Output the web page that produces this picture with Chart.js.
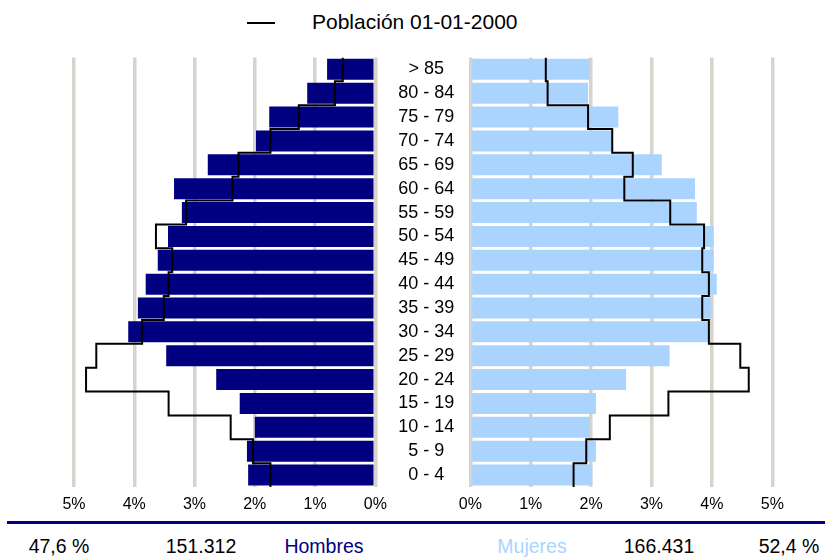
<!DOCTYPE html>
<html>
<head>
<meta charset="utf-8">
<script src="https://cdn.jsdelivr.net/npm/chart.js@4/dist/chart.umd.min.js"></script>
<style>
  body { margin: 0; width: 825px; height: 558px; overflow: hidden; background: #fff;
         font-family: "Liberation Sans", Arial, sans-serif; }
  canvas { position: absolute; top: 0; }
  #left { left: 0; }
  #right { left: 375px; }
  .txt { position: absolute; white-space: nowrap; line-height: 19px; font-size: 19.5px; color: #000;
         transform: translateX(-50%); }
  #legend-line { position: absolute; left: 247px; top: 22px; width: 28px; height: 2px; background: #000; }
  #legend-text { position: absolute; left: 312px; top: 12px; font-size: 21px; line-height: 20px; }
  #rule { position: absolute; left: 7px; top: 521px; width: 818px; height: 3px; background: #000080; }
</style>
</head>
<body>
<div id="legend-line"></div>
<div id="legend-text">Población 01-01-2000</div>
<canvas id="left" width="400" height="520"></canvas>
<canvas id="right" width="450" height="520"></canvas>
<div id="rule"></div>
<div class="txt" style="left:59px;top:537px">47,6 %</div>
<div class="txt" style="left:201px;top:537px">151.312</div>
<div class="txt" style="left:324px;top:537px;color:#000080">Hombres</div>
<div class="txt" style="left:532px;top:537px;color:#aad4fe">Mujeres</div>
<div class="txt" style="left:659px;top:537px">166.431</div>
<div class="txt" style="left:789px;top:537px">52,4 %</div>
<script>
// grupos de edad, de arriba abajo
const edades = ["> 85", "80 - 84", "75 - 79", "70 - 74", "65 - 69", "60 - 64", "55 - 59",
  "50 - 54", "45 - 49", "40 - 44", "35 - 39", "30 - 34", "25 - 29", "20 - 24",
  "15 - 19", "10 - 14", "5 - 9", "0 - 4"];

// % sobre el total de población
const hombres = [0.80, 1.13, 1.76, 1.98, 2.78, 3.34, 3.21, 3.44, 3.61, 3.81, 3.94, 4.10,
  3.47, 2.64, 2.25, 2.00, 2.13, 2.11];
const mujeres = [1.98, 1.95, 2.45, 2.36, 3.17, 3.72, 3.75, 4.03, 4.03, 4.08, 3.99, 3.94,
  3.30, 2.58, 2.08, 1.98, 2.08, 2.02];

// Población 01-01-2000
const hombres2000 = [0.54, 0.67, 1.27, 1.74, 2.27, 2.37, 3.14, 3.64, 3.37, 3.43, 3.51, 3.87,
  4.63, 4.80, 3.43, 2.40, 2.03, 1.74];
const mujeres2000 = [1.25, 1.28, 1.95, 2.35, 2.69, 2.55, 3.31, 3.87, 3.84, 3.95, 3.84, 3.95,
  4.47, 4.61, 3.28, 2.31, 1.92, 1.71];

const ticksPct = [0, 1, 2, 3, 4, 5];

Chart.defaults.font.family = "'Liberation Sans', Arial, sans-serif";
Chart.defaults.color = "#000";

// cada grupo es un tramo vertical que cubre toda su franja
function escalones(vals) {
  return vals.flatMap((v, i) => [{ x: v, y: i - 0.5 }, { x: v, y: i + 0.5 }]);
}

function piramide(canvasId, valores, valores2000, color, izquierda) {
  const ejeX = {
    type: "linear",
    min: ticksPct[0],
    max: ticksPct[ticksPct.length - 1],
    reverse: izquierda,
    afterBuildTicks: (scale) => { scale.ticks = ticksPct.map(v => ({ value: v })); },
    afterFit: (scale) => { scale.height = 33; },
    ticks: { callback: v => v + "%", font: { size: 16 }, padding: 8 },
    grid: { color: "#d8d4cd", lineWidth: 3.5, drawTicks: false },
    border: { display: false },
  };
  const ejeY = izquierda
    ? { type: "category", offset: true, display: false }
    : {
        type: "category", offset: true, position: "left",
        grid: { display: false, drawTicks: false },
        border: { display: false },
        ticks: { font: { size: 18 }, crossAlign: "center", padding: 16, autoSkip: false },
        afterFit: (scale) => { scale.width = 95.3; },
      };

  new Chart(document.getElementById(canvasId), {
    type: "bar",
    data: {
      labels: edades,
      datasets: [
        {
          type: "line",
          indexAxis: "y",
          data: escalones(valores2000),
          yAxisID: "yStep",
          borderColor: "#000",
          borderWidth: 2,
          pointRadius: 0,
          fill: false,
          order: 0,
        },
        {
          data: valores,
          backgroundColor: color,
          barPercentage: 0.88,
          categoryPercentage: 1,
          grouped: false,
          order: 1,
        },
      ],
    },
    options: {
      indexAxis: "y",
      responsive: false,
      animation: false,
      layout: {
        padding: izquierda
          ? { left: 74, right: 24.7, top: 57.4, bottom: 0 }
          : { left: 0, right: 52.7, top: 57.4, bottom: 0 },
      },
      plugins: { legend: { display: false }, tooltip: { enabled: false } },
      scales: {
        x: ejeX,
        y: ejeY,
        yStep: {
          type: "linear", display: false, offset: false, grid: { offset: false },
          min: -0.5, max: edades.length - 0.5, reverse: true,
        },
      },
    },
  });
}

piramide("left", hombres, hombres2000, "#000080", true);
piramide("right", mujeres, mujeres2000, "#aad4fe", false);
</script>
</body>
</html>
